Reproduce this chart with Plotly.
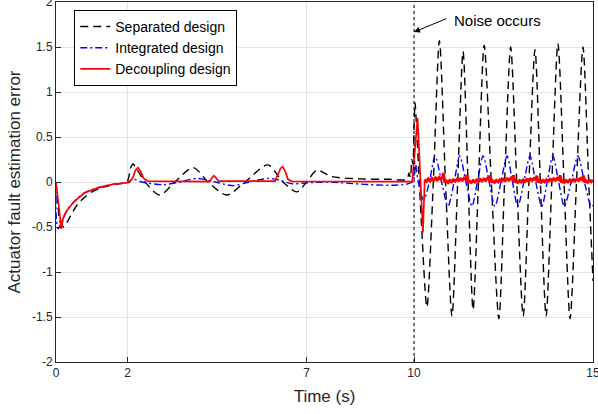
import plotly.graph_objects as go

# ---- data (time s, error) ----
separated = [(0, 0), (0.05, -0.25), (0.12, -0.45), (0.22, -0.5), (0.4, -0.38), (0.6, -0.25),
             (0.8, -0.17), (1.0, -0.11), (1.3, -0.06), (1.6, -0.03), (1.98, 0.0), (2.08, 0.15),
             (2.15, 0.2), (2.25, 0.15), (2.49, 0.0), (2.9, -0.145), (3.32, 0.0), (3.83, 0.16),
             (4.25, 0.0), (4.77, -0.145), (5.28, 0.0), (5.92, 0.19), (6.34, 0.0), (6.73, -0.11),
             (7.0, 0.0), (7.29, 0.13), (7.7, 0.06), (8.5, 0.035), (9.3, 0.03), (9.8, 0.03),
             (9.86, 0.1), (9.9, 0.05), (9.94, 0.25), (9.97, 0.2), (10.0, 0.6), (10.03, 0.88),
             (10.06, 0.7), (10.2, -0.4), (10.36, -1.39), (10.54, 0.0), (10.71, 1.57), (10.88, 0.0),
             (11.06, -1.49), (11.22, 0.0), (11.37, 1.45), (11.51, 0.0), (11.65, -1.42), (11.8, 0.0),
             (11.96, 1.52), (12.16, 0.0), (12.37, -1.52), (12.53, 0.0), (12.7, 1.5), (12.87, 0.0),
             (13.05, -1.49), (13.21, 0.0), (13.38, 1.47), (13.53, 0.0), (13.69, -1.49), (13.85, 0.0),
             (14.02, 1.54), (14.19, 0.0), (14.36, -1.52), (14.54, 0.0), (14.72, 1.5), (14.88, 0.0),
             (15.0, -1.1)]

integrated = [(0, 0), (0.01, -0.4), (0.06, -0.52), (0.15, -0.45), (0.3, -0.32), (0.5, -0.22),
              (0.8, -0.12), (1.2, -0.06), (1.6, -0.025), (2.0, -0.005), (2.15, 0.03), (2.4, 0.0),
              (3.0, -0.03), (3.45, 0.0), (3.95, 0.04), (4.45, 0.0), (4.95, -0.04), (5.4, 0.0),
              (5.95, 0.04), (6.25, 0.02), (6.6, -0.02), (7.0, -0.01), (7.5, 0.0), (9.95, 0.0),
              (10.03, 0.22), (10.12, 0.0), (10.27, -0.2), (10.43, 0.0), (10.59, 0.29), (10.77, 0.0),
              (10.95, -0.27), (11.12, 0.0), (11.28, 0.29), (11.45, 0.0), (11.62, -0.27), (11.77, 0.0),
              (11.93, 0.29), (12.1, 0.0), (12.26, -0.27), (12.43, 0.0), (12.6, 0.29), (12.75, 0.0),
              (12.9, -0.27), (13.07, 0.0), (13.24, 0.29), (13.4, 0.0), (13.57, -0.27), (13.72, 0.0),
              (13.88, 0.29), (14.04, 0.0), (14.2, -0.27), (14.39, 0.0), (14.58, 0.29), (14.76, 0.0),
              (14.95, -0.27), (15.0, -0.26)]

decoupling = [(0, 0), (0.08, -0.3), (0.15, -0.52), (0.2, -0.4), (0.3, -0.32), (0.5, -0.22),
              (0.8, -0.12), (1.2, -0.06), (1.6, -0.025), (2.05, -0.005), (2.15, 0.05), (2.22, 0.13),
              (2.29, 0.16), (2.36, 0.12), (2.45, 0.04), (2.57, 0.01), (4.3, 0.005), (4.36, 0.05),
              (4.41, 0.07), (4.46, 0.05), (4.54, 0.01), (6.12, 0.01), (6.2, 0.08), (6.27, 0.15),
              (6.33, 0.17), (6.4, 0.12), (6.48, 0.03), (6.58, 0.008), (9.95, 0.005), (10.03, 0.35),
              (10.1, 0.71), (10.25, -0.56), (10.28, 0.02), (10.30, .028)]

decoupling_noise = [(10.30, .028), (10.35, .006), (10.40, .034), (10.45, .012), (10.50, .040),
                    (10.55, .018), (10.60, .045), (10.65, .024), (10.70, .050), (10.75, .030),
                    (10.80, .058), (10.82, .100), (10.86, -.005), (10.90, .012), (10.95, -.006),
                    (11.00, .018), (11.05, .002), (11.10, .024), (11.15, .008), (11.20, .030),
                    (11.25, .014), (11.30, .036), (11.35, .020), (11.40, .044), (11.45, .030),
                    (11.48, .080), (11.52, -.005), (11.55, .010), (11.60, -.006), (11.65, .016),
                    (11.70, .000), (11.75, .022), (11.80, .006), (11.85, .028), (11.90, .012),
                    (11.95, .034), (12.00, .018), (12.05, .040), (12.10, .026), (12.13, .070),
                    (12.17, -.005), (12.20, .012), (12.25, -.004), (12.30, .018), (12.35, .002),
                    (12.40, .024), (12.45, .008), (12.50, .030), (12.55, .014), (12.60, .036),
                    (12.65, .020), (12.70, .042), (12.75, .028), (12.78, .075), (12.82, -.005),
                    (12.85, .010), (12.90, -.006), (12.95, .016), (13.00, .000), (13.05, .022),
                    (13.10, .006), (13.15, .028), (13.20, .012), (13.25, .034), (13.30, .018),
                    (13.35, .040), (13.40, .026), (13.43, .070), (13.47, -.005), (13.50, .012),
                    (13.55, -.004), (13.60, .018), (13.65, .002), (13.70, .024), (13.75, .008),
                    (13.80, .030), (13.85, .014), (13.90, .036), (13.95, .020), (14.00, .042),
                    (14.05, .028), (14.08, .075), (14.12, -.005), (14.15, .010), (14.20, -.006),
                    (14.25, .016), (14.30, .000), (14.35, .022), (14.40, .006), (14.45, .028),
                    (14.50, .012), (14.55, .034), (14.60, .018), (14.65, .040), (14.70, .026),
                    (14.73, .070), (14.77, -.002), (14.80, .012), (14.85, -.004), (14.90, .018),
                    (14.95, .003), (15.00, .022)]

x_ticks = [0, 2, 7, 10, 15]
y_ticks = [-2, -1.5, -1, -0.5, 0, 0.5, 1, 1.5, 2]
y_ticktext = ["-2", "-1.5", "-1", "-0.5", "0", "0.5", "1", "1.5", "2"]
noise_time = 10

def unzip(pairs):
    return [p[0] for p in pairs], [p[1] for p in pairs]

FONT = "Liberation Sans, Arial, Helvetica, sans-serif"
AX = "#262626"

fig = go.Figure()
bt, bv = unzip(separated)
it, iv = unzip(integrated)
rt, rv = unzip(decoupling)
nt, nv = unzip(decoupling_noise)

fig.add_trace(go.Scatter(x=bt, y=bv, mode="lines", name="Separated design",
                         line=dict(color="black", width=1.4, dash="8px,5px", shape="spline", smoothing=0.8)))
fig.add_trace(go.Scatter(x=it, y=iv, mode="lines", name="Integrated design",
                         line=dict(color="blue", width=1.4, dash="7px,3px,2px,3px", shape="spline", smoothing=0.8)))
fig.add_trace(go.Scatter(x=rt, y=rv, mode="lines", name="Decoupling design",
                         line=dict(color="red", width=1.7)))
fig.add_trace(go.Scatter(x=nt, y=nv, mode="lines", showlegend=False, hoverinfo="skip",
                         line=dict(color="red", width=3.0)))

fig.add_shape(type="line", x0=noise_time, x1=noise_time, y0=-2, y1=2, xref="x", yref="y",
              line=dict(color="black", width=1, dash="dot"), layer="above")

fig.add_annotation(x=noise_time, y=1.667, ax=34, ay=-14, xref="x", yref="y", text="",
                   showarrow=True, arrowhead=2, arrowsize=1.2, arrowwidth=1, arrowcolor="black")
fig.add_annotation(x=12.32, y=1.8, xref="x", yref="y", text="Noise occurs", showarrow=False,
                   font=dict(size=15, color="black", family=FONT))

axis_common = dict(showline=True, mirror=True, linecolor=AX, linewidth=1, ticks="inside",
                   ticklen=5, tickcolor=AX, showgrid=True, gridcolor="#e3e3e3", gridwidth=1,
                   zeroline=False, automargin=False, ticklabeloverflow="allow",
                   tickfont=dict(size=12, color=AX, family=FONT))

fig.update_layout(
    width=598, height=414,
    margin=dict(l=56, r=5, t=2, b=52, autoexpand=False),
    paper_bgcolor="white", plot_bgcolor="white",
    font=dict(family=FONT, color=AX),
    xaxis=dict(range=[0, 15], tickvals=x_ticks, title=dict(text="Time (s)", font=dict(size=17, color=AX), standoff=10),
               **axis_common),
    yaxis=dict(range=[-2, 2], tickvals=y_ticks, ticktext=y_ticktext,
               title=dict(text="Actuator fault estimation error", font=dict(size=17, color=AX), standoff=6),
               **axis_common),
    legend=dict(x=0.034, y=0.978, xanchor="left", yanchor="top", bgcolor="white",
                bordercolor="black", borderwidth=1, font=dict(size=14, color="black", family=FONT),
                tracegroupgap=0),
    showlegend=True,
)

fig.write_html("out.html", config={"displayModeBar": False},
               post_script="document.body.style.margin='0';")
